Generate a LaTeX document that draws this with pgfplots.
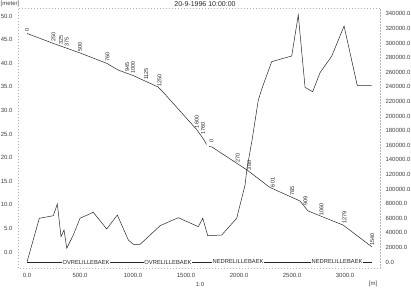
\documentclass[border=0pt]{standalone}
\usepackage{fontspec}
\setmainfont{Liberation Sans}
\usepackage{pgfplots}
\pgfplotsset{compat=1.18}
\begin{document}
\begin{tikzpicture}
\useasboundingbox (0,0) rectangle (411pt,288pt);
\pgfplotsset{
  common/.style={
    scale only axis, width=362pt, height=260pt,
    at={(18pt,20pt)}, anchor=south west,
    xmin=-85, xmax=3330,
    axis line style={gray!60, dash pattern=on 0.5pt off 2.5pt},
    major tick length=0pt, minor tick length=0pt,
    tick label style={font=\fontsize{6}{7}\selectfont, text=black!75},
    /pgf/number format/assume math mode=true,
    /pgf/number format/.cd, fixed, precision=1, zerofill, 1000 sep={},
  }
}
% left axis: water level
\begin{axis}[common,
  ymin=-3.39, ymax=51.69,
  ytick={0,5,...,50},
  xtick={0,500,...,3000},
  yticklabel style={xshift=-2pt},
  xticklabel style={yshift=-2pt},
  clip=false]
\addplot[black!85, line width=0.5pt] coordinates {
(0,46.29) (250,44.17) (500,42.16) (755,39.94) (858,38.56) (1000,37.39)
(1123,36.12) (1236,34.96) (1274,34.11) (1604,25.85) (1670,23.73) (1693,22.78)};
\addplot[black!85, line width=0.5pt] coordinates {
(1717,22.35) (1745,22.25) (2075,17.37) (2292,13.67) (2575,10.81) (2651,8.69)
(2981,5.72) (3255,1.06)};
% chainage labels
\begin{scope}[every node/.style={rotate=90, anchor=west, inner sep=1.5pt, text=black!85, font=\fontsize{5.5}{6}\selectfont}]
\node at (axis cs:0,46.29) {0};
\node at (axis cs:250,44.17) {250};
\node at (axis cs:320,43.6) {325};
\node at (axis cs:375,43.17) {375};
\node at (axis cs:500,42.16) {500};
\node at (axis cs:760,39.9) {760};
\node at (axis cs:945,37.84) {945};
\node at (axis cs:1000,37.39) {1000};
\node at (axis cs:1125,36.1) {1125};
\node at (axis cs:1250,34.65) {1250};
\node at (axis cs:1600,25.9) {1600};
\node at (axis cs:1660,24.5) {1760};
\node at (axis cs:1740,22.9) {0};
\node at (axis cs:1987,18.67) {270};
\node at (axis cs:2097,17.0) {380};
\node at (axis cs:2318,13.4) {601};
\node at (axis cs:2502,11.55) {785};
\node at (axis cs:2626,9.39) {909};
\node at (axis cs:2777,7.28) {1060};
\node at (axis cs:2996,5.6) {1279};
\node at (axis cs:3257,1.05) {1540};
\end{scope}
% branch bar
\draw[black!85, line width=0.5pt] (axis cs:0,-2.12) -- (axis cs:3255,-2.12);
\begin{scope}[every node/.style={fill=white, inner sep=0.8pt, text=black!85, font=\fontsize{5.8}{6}\selectfont}]
\node at (axis cs:557,-2.12) {OVRELILLEBAEK};
\node at (axis cs:1330,-2.12) {OVRELILLEBAEK};
\node at (axis cs:1991,-2.12) {NEDRELILLEBAEK};
\node at (axis cs:2925,-2.12) {NEDRELILLEBAEK};
\end{scope}
\end{axis}
% right axis: discharge
\begin{axis}[common,
  ymin=-8220, ymax=347980,
  axis y line*=right, axis x line=none,
  ytick={0,20000,...,340000},
  yticklabel style={xshift=2pt},
  scaled y ticks=false]
\addplot[black!85, line width=0.5pt] coordinates {
(0,0) (116,59900) (248,63400) (286,79500) (321,34700) (349,43800) (375,18800)
(437,37000) (500,59900) (625,68100) (752,45200) (852,64400) (956,30100)
(1003,24200) (1066,24200) (1129,32500) (1255,49700) (1427,60700) (1616,48400)
(1658,59900) (1705,36000) (1837,37000) (1978,59900) (2057,105500) (2073,126000)
(2123,167000) (2182,222000) (2217,238000) (2308,274400) (2418,279000)
(2497,282200) (2559,338400) (2623,239300) (2695,233300) (2764,259300)
(2875,282200) (2991,323300) (3116,241500) (3252,241500)};
\end{axis}
\node[font=\fontsize{7}{8}\selectfont, text=black!85] at (205pt,283.5pt) {20-9-1996 10:00:00};
\node[font=\fontsize{6}{7}\selectfont, text=black!75, anchor=west, inner sep=0pt] at (0.5pt,284pt) {[meter]};
\node[font=\fontsize{6}{7}\selectfont, text=black!75] at (200pt,4pt) {1:0};
\node[font=\fontsize{6}{7}\selectfont, text=black!75] at (373pt,4pt) {[m]};
\end{tikzpicture}
\end{document}
